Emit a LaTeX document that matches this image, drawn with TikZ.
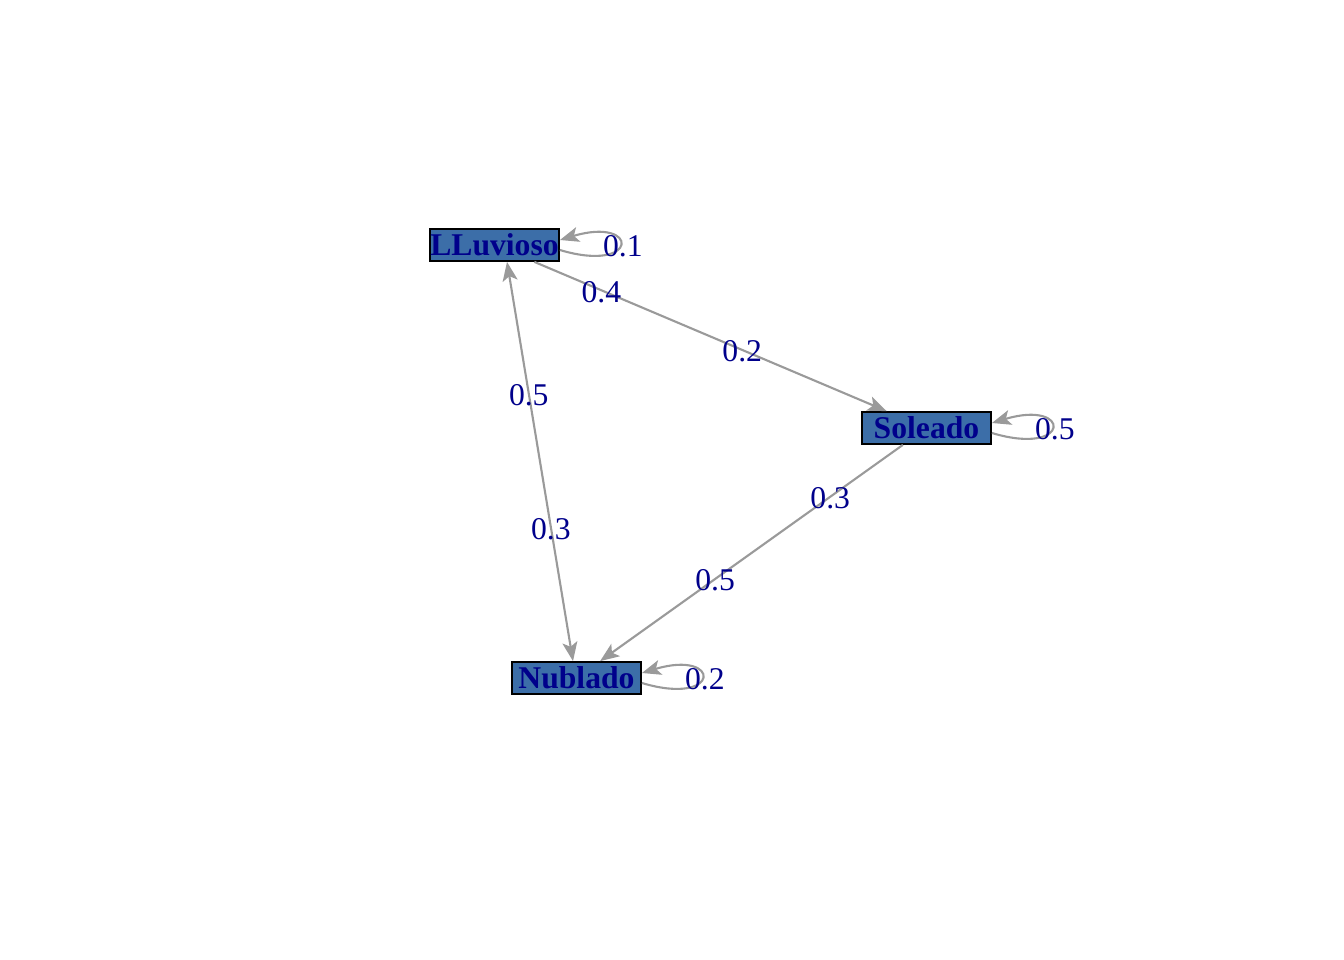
\documentclass[tikz,border=0pt]{standalone}
\usepackage{fontspec}
\setmainfont{Liberation Serif}
\usetikzlibrary{arrows.meta}
\definecolor{boxblue}{HTML}{3C6EA8}
\definecolor{labelblue}{HTML}{00008B}
\definecolor{edgegray}{HTML}{9A9A9A}
\begin{document}
\begin{tikzpicture}[x=0.01cm,y=-0.01cm]
        \useasboundingbox (0,0) rectangle (1344,960);

        \begin{scope}[every node/.style={rectangle,draw=black,fill=boxblue,text=labelblue,
            font=\fontsize{9}{10}\selectfont\bfseries,minimum width=1.29cm,minimum height=0.32cm,
            inner sep=0pt,line width=0.5pt}]
          \node (1) at (494.5,245) {LLuvioso};
          \node (2) at (926.5,428) {Soleado};
          \node (3) at (576.5,678) {Nublado};
        \end{scope}

        \begin{scope}[every node/.style={text=labelblue,font=\fontsize{9}{10}\selectfont,inner sep=0pt,yshift=-0.015cm}]

          \begin{scope}[every edge/.style={draw=edgegray,line width=0.6pt,
              >={Stealth[length=0.19cm,width=0.15cm,inset=0.045cm]},->},
              selfloop/.style={to path={.. controls +(80,24) and +(80,-24) .. (\tikztotarget) \tikztonodes}}]
            \path (1)  edge node[pos=.19] {0.4} node[pos=.59] {0.2} (2);
            \path ([xshift=0.125cm]1.south) edge[<->] node[pos=.33] {0.5} node[pos=.665] {0.3} ([xshift=-0.035cm]3.north);
            \path (2)  edge node[pos=.24] {0.3} node[pos=.62] {0.5} (3);
            \path ([yshift=-0.05cm]1.east) edge[selfloop] node[xshift=0.03cm] {0.1} ([yshift=0.05cm]1.east);
            \path ([yshift=-0.05cm]2.east) edge[selfloop] node[xshift=0.03cm] {0.5} ([yshift=0.05cm]2.east);
            \path ([yshift=-0.05cm]3.east) edge[selfloop] node[xshift=0.03cm] {0.2} ([yshift=0.05cm]3.east);
          \end{scope}
        \end{scope}

      \end{tikzpicture}
\end{document}
